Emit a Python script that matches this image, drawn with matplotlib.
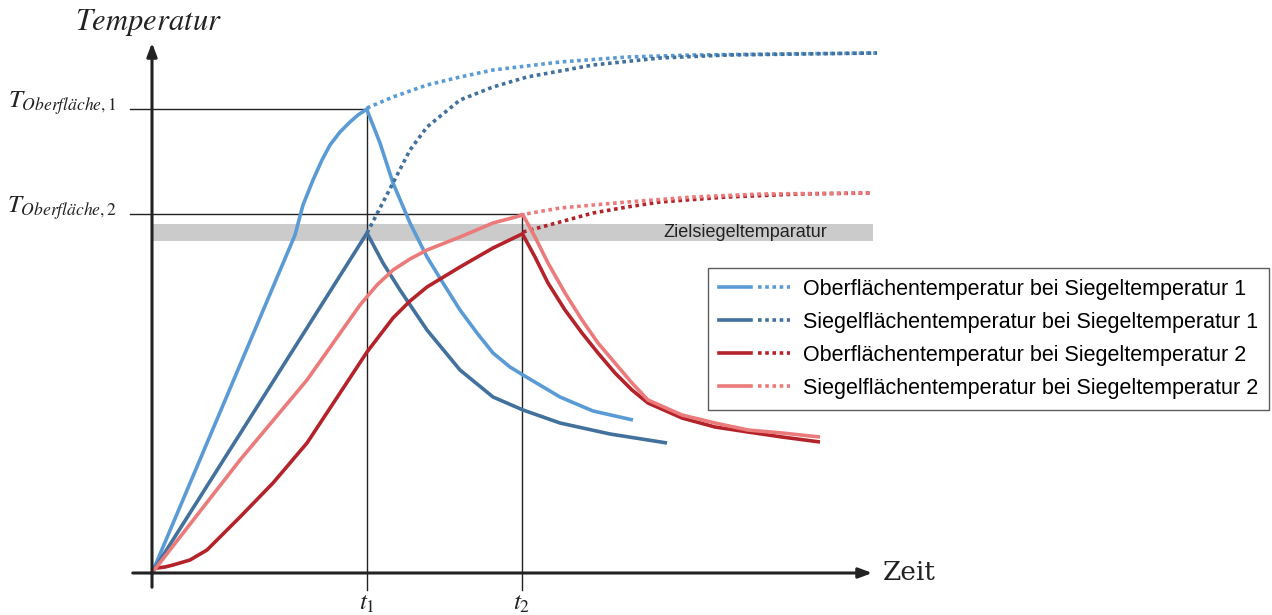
import numpy as np
import matplotlib.pyplot as plt
from matplotlib.lines import Line2D
from matplotlib.legend_handler import HandlerTuple

plt.rcParams['mathtext.fontset'] = 'stix'

# Werte (Zeit, Temperatur in Bildeinheiten, Ursprung = Achsenkreuz)
X0, Y0 = 152, 573

t1 = 367 - X0
t2 = 522 - X0
T_ober1 = Y0 - 109
T_ober2 = Y0 - 214
ziel_lo = Y0 - 241
ziel_hi = Y0 - 224

# Oberflaechentemperatur 1 (hellblau)
ob1_heiz_x = [152, 295, 303, 313, 322, 330, 340, 350, 358, 367]
ob1_heiz_y = [573, 235, 205, 180, 160, 145, 132, 122, 115, 109]
ob1_kuehl_x = [367, 380, 393, 410, 427, 443, 460, 477, 493, 510, 523, 560, 593, 633]
ob1_kuehl_y = [110, 143, 183, 223, 257, 283, 310, 333, 353, 367, 375, 397, 411, 420]
ob1_weiter_x = [367, 393, 427, 460, 493, 560, 627, 693, 780, 877]
ob1_weiter_y = [108, 97, 85, 77, 70, 62, 57, 55, 54, 53]

# Siegelflaechentemperatur 1 (dunkelblau)
sf1_heiz_x = [152, 367]
sf1_heiz_y = [573, 233]
sf1_kuehl_x = [367, 383, 400, 427, 460, 493, 523, 560, 610, 667]
sf1_kuehl_y = [233, 263, 290, 330, 370, 397, 410, 423, 434, 443]
sf1_weiter_x = [367, 393, 410, 427, 460, 493, 527, 593, 660, 727, 800, 877]
sf1_weiter_y = [233, 183, 150, 127, 100, 87, 77, 65, 58, 55, 54, 53]

# Oberflaechentemperatur 2 (dunkelrot)
ob2_heiz_x = [157, 165, 173, 190, 207, 240, 273, 307, 340, 367, 393, 410, 427, 460, 493, 522]
ob2_heiz_y = [568, 567, 565, 560, 550, 517, 483, 443, 393, 352, 318, 301, 287, 267, 248, 234]
ob2_kuehl_x = [522, 535, 548, 565, 582, 598, 615, 632, 648, 682, 715, 748, 782, 820]
ob2_kuehl_y = [233, 257, 283, 310, 333, 353, 373, 390, 403, 418, 427, 432, 437, 442]
ob2_weiter_x = [523, 560, 593, 627, 660, 727, 800, 870]
ob2_weiter_y = [232, 222, 213, 207, 202, 197, 194, 193]

# Siegelflaechentemperatur 2 (hellrot)
sf2_heiz_x = [152, 240, 307, 360, 377, 393, 410, 427, 460, 493, 523]
sf2_heiz_y = [573, 460, 380, 305, 285, 270, 259, 250, 237, 223, 215]
sf2_kuehl_x = [523, 535, 548, 565, 582, 598, 615, 632, 648, 682, 715, 748, 782, 820]
sf2_kuehl_y = [215, 237, 263, 293, 320, 343, 363, 383, 400, 415, 423, 430, 433, 437]
sf2_weiter_x = [520, 560, 627, 693, 760, 870]
sf2_weiter_y = [215, 208, 202, 197, 194, 193]

farben = ['#5b9bd5', '#41719c', '#b4232a', '#eb7b7b']
namen = ['Oberflächentemperatur bei Siegeltemperatur 1',
         'Siegelflächentemperatur bei Siegeltemperatur 1',
         'Oberflächentemperatur bei Siegeltemperatur 2',
         'Siegelflächentemperatur bei Siegeltemperatur 2']

kurven = [
    (ob1_heiz_x, ob1_heiz_y, ob1_kuehl_x, ob1_kuehl_y, ob1_weiter_x, ob1_weiter_y),
    (sf1_heiz_x, sf1_heiz_y, sf1_kuehl_x, sf1_kuehl_y, sf1_weiter_x, sf1_weiter_y),
    (ob2_heiz_x, ob2_heiz_y, ob2_kuehl_x, ob2_kuehl_y, ob2_weiter_x, ob2_weiter_y),
    (sf2_heiz_x, sf2_heiz_y, sf2_kuehl_x, sf2_kuehl_y, sf2_weiter_x, sf2_weiter_y),
]


def tx(v):
    return np.array(v) - X0


def ty(v):
    return Y0 - np.array(v)


fig = plt.figure(figsize=(12.72, 6.15), dpi=100)
ax = fig.add_axes([0, 0, 1, 1])
ax.set_xlim(-X0, 1272 - X0)
ax.set_ylim(Y0 - 615, Y0)
ax.axis('off')

# Zielsiegeltemperatur-Band
ax.fill_between([0, 873 - X0], ziel_lo, ziel_hi, color='#cbcbcb', lw=0, zorder=1)
ax.text(745 - X0, (ziel_lo + ziel_hi) / 2, 'Zielsiegeltemparatur', ha='center', va='center',
        fontsize=13, family='Liberation Sans', color='#222222', zorder=2)

# Hilfslinien
ax.plot([-22, t1], [T_ober1, T_ober1], color='#222222', lw=1.0, zorder=2)
ax.plot([-22, t2], [T_ober2, T_ober2], color='#222222', lw=1.0, zorder=2)
ax.plot([t1, t1], [-17, T_ober1], color='#222222', lw=1.0, zorder=2)
ax.plot([t2, t2], [-17, T_ober2], color='#222222', lw=1.0, zorder=2)

# Achsen mit Pfeilen
ax.annotate('', xy=(875 - X0, 0), xytext=(-22, 0),
            arrowprops=dict(arrowstyle='-|>,head_length=0.8,head_width=0.3', color='#222222', lw=2.2), zorder=5)
ax.annotate('', xy=(0, Y0 - 40), xytext=(0, -17),
            arrowprops=dict(arrowstyle='-|>,head_length=0.8,head_width=0.3', color='#222222', lw=2.2), zorder=5)

ax.text(883 - X0, 0, 'Zeit', fontsize=19, family='DejaVu Serif', va='center', ha='left', color='#222222')
ax.text(148 - X0, Y0 - 22, r'$Temperatur$', fontsize=22, va='center', ha='center', color='#222222')
ax.text(62 - X0, T_ober1 + 6, r'$T_{Oberfläche,1}$', fontsize=18, va='center', ha='center', color='#222222')
ax.text(62 - X0, T_ober2 + 6, r'$T_{Oberfläche,2}$', fontsize=18, va='center', ha='center', color='#222222')
ax.text(t1, -30, r'$t_1$', fontsize=18, va='center', ha='center', color='#222222')
ax.text(t2, -30, r'$t_2$', fontsize=18, va='center', ha='center', color='#222222')

lw = 2.6
punkt = (0, (1, 1))
handles = []
for (hx, hy, kx, ky, wx, wy), c in zip(kurven, farben):
    ax.plot(tx(hx), ty(hy), color=c, lw=lw, solid_joinstyle='round', zorder=3)
    ax.plot(tx(kx), ty(ky), color=c, lw=lw, solid_joinstyle='round', solid_capstyle='butt', zorder=3)
    ax.plot(tx(wx), ty(wy), color=c, lw=lw, linestyle=punkt, zorder=3)
    handles.append((Line2D([], [], color=c, lw=lw),
                    Line2D([], [], color=c, lw=lw, linestyle=punkt)))

leg = ax.legend(handles, namen, handler_map={tuple: HandlerTuple(ndivide=None, pad=0.3)},
                loc='upper left', bbox_to_anchor=(708 / 1272, 1 - 268 / 615),
                prop={'family': 'Liberation Sans', 'size': 15.5}, frameon=True, fancybox=False,
                edgecolor='#333333', handlelength=3.3, handletextpad=0.6, labelspacing=0.56,
                borderpad=0.5, borderaxespad=0)
leg.get_frame().set_linewidth(1.0)

fig.savefig('out.png', dpi=100)
